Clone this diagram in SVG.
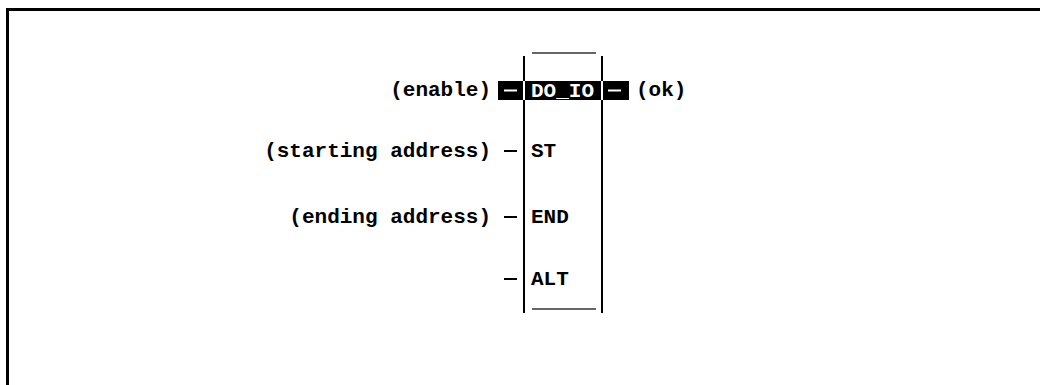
<svg xmlns="http://www.w3.org/2000/svg" width="1040" height="385" viewBox="0 0 1040 385">
<style>
.t{font-family:"Liberation Mono","Courier New",monospace;font-weight:bold;font-size:21px;fill:#000}
.w{fill:#fff}
.ln{stroke:#000;stroke-width:2;fill:none}
.wl{stroke:#fff;stroke-width:2;fill:none}
.thin{stroke:#333;stroke-width:1.3;fill:none}
</style>
<rect width="1040" height="385" fill="#fff"/>
<path id="frame" d="M7.5,385 V9.5 H1040" stroke="#000" stroke-width="3" fill="none"/>
<g id="block">
  <rect x="498" y="81" width="131" height="19" fill="#000"/>
  <line class="thin" x1="532" y1="53" x2="596" y2="53"/>
  <line class="thin" x1="532" y1="309" x2="596" y2="309"/>
  <line class="ln" x1="524" y1="56" x2="524" y2="81"/>
  <line class="wl" x1="524" y1="81" x2="524" y2="100"/>
  <line class="ln" x1="524" y1="100" x2="524" y2="313"/>
  <line class="ln" x1="602" y1="56" x2="602" y2="81"/>
  <line class="wl" x1="602" y1="81" x2="602" y2="100"/>
  <line class="ln" x1="602" y1="100" x2="602" y2="313"/>
  <text class="t w" x="531" y="97">DO_IO</text>
  <text class="t" x="531" y="157">ST</text>
  <text class="t" x="531" y="223">END</text>
  <text class="t" x="531" y="285">ALT</text>
</g>
<g id="labels">
  <text class="t" x="491" y="96" text-anchor="end">(enable)</text>
  <text class="t" x="491" y="157" text-anchor="end">(starting address)</text>
  <text class="t" x="491" y="223" text-anchor="end">(ending address)</text>
  <text class="t" x="636" y="96">(ok)</text>
</g>
<g id="connectors">
  <line class="wl" x1="504" y1="90.5" x2="517" y2="90.5"/>
  <line class="wl" x1="608" y1="90.5" x2="621" y2="90.5"/>
  <line class="ln" x1="504" y1="151" x2="517" y2="151"/>
  <line class="ln" x1="504" y1="217" x2="517" y2="217"/>
  <line class="ln" x1="504" y1="279" x2="517" y2="279"/>
</g>
</svg>
